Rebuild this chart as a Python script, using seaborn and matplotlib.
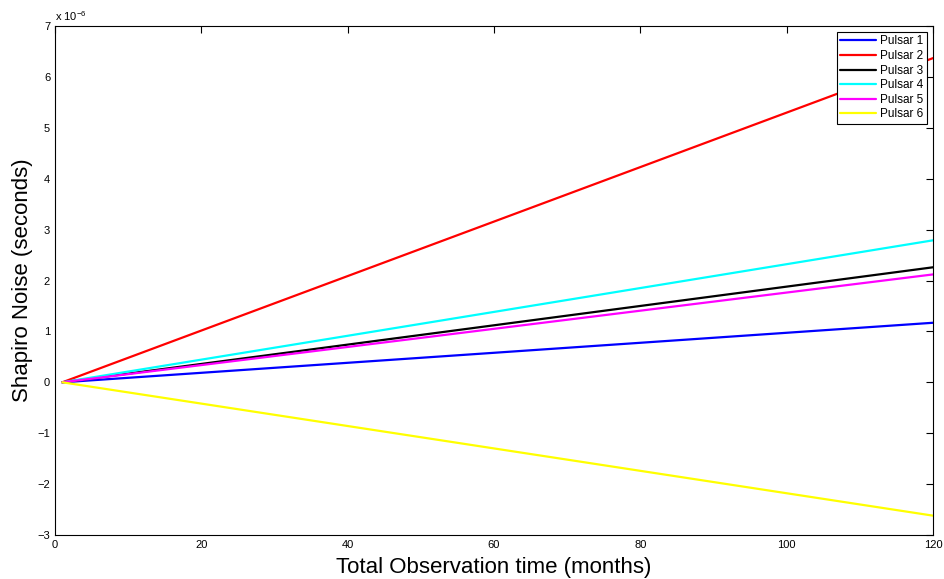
import numpy as np
import pandas as pd
import matplotlib
matplotlib.use("Agg")
import matplotlib.pyplot as plt
import matplotlib.ticker as mticker
import seaborn as sns

# Shapiro delay accumulated over the observation span (seconds)
months = [1, 120]
pulsar_names = ["Pulsar 1", "Pulsar 2", "Pulsar 3", "Pulsar 4", "Pulsar 5", "Pulsar 6"]
pulsar1 = [0.0, 1.17e-6]
pulsar2 = [0.0, 6.37e-6]
pulsar3 = [0.0, 2.26e-6]
pulsar4 = [0.0, 2.79e-6]
pulsar5 = [0.0, 2.12e-6]
pulsar6 = [0.0, -2.62e-6]
colors = ["#0000ff", "#ff0000", "#000000", "#00ffff", "#ff00ff", "#ffff00"]

series = [pulsar1, pulsar2, pulsar3, pulsar4, pulsar5, pulsar6]
df = pd.concat(
    [pd.DataFrame({"month": months, "noise": vals, "pulsar": name})
     for name, vals in zip(pulsar_names, series)],
    ignore_index=True,
)

sns.set_theme(style="white")
plt.rcParams["font.family"] = ["Liberation Sans", "DejaVu Sans"]
plt.rcParams["mathtext.fontset"] = "custom"
plt.rcParams["mathtext.rm"] = "Liberation Sans"
plt.rcParams["text.color"] = "black"
plt.rcParams["axes.labelcolor"] = "black"
plt.rcParams["xtick.color"] = "black"
plt.rcParams["ytick.color"] = "black"

fig = plt.figure(figsize=(9.45, 5.79), dpi=100)
ax = fig.add_axes([0.0582, 0.076, 0.9291, 0.879])

sns.lineplot(data=df, x="month", y="noise", hue="pulsar", palette=colors,
             linewidth=1.6, ax=ax, legend=True)

ax.set_xlim(0, 120)
ax.set_ylim(-3e-6, 7e-6)
ax.set_xticks(np.arange(0, 121, 20))
ax.set_yticks(np.arange(-3, 8, 1) * 1e-6)

# y tick labels in units of 1e-6 s, with the exponent shown above the axis
ax.yaxis.set_major_formatter(
    mticker.FuncFormatter(lambda v, pos: f"{v / 1e-6:.0f}".replace("-", "\u2212")))
ax.text(0.0, 1.006, "x 10$^{-6}$", transform=ax.transAxes, fontsize=8,
        ha="left", va="bottom")

ax.tick_params(direction="in", length=5, width=0.8, labelsize=8,
               top=True, right=True, colors="black")
for s in ax.spines.values():
    s.set_color("black")
    s.set_linewidth(0.8)

ax.set_xlabel("Total Observation time (months)", fontsize=16, labelpad=5)
ax.set_ylabel("Shapiro Noise (seconds)", fontsize=16, labelpad=3)

leg = ax.legend(loc="upper right", fontsize=8.5, frameon=True, fancybox=False,
                framealpha=1, edgecolor="black", handlelength=3.0,
                borderaxespad=0.5, labelspacing=0.22, handletextpad=0.4,
                borderpad=0.3)
leg.get_frame().set_linewidth(0.8)
for h in leg.get_lines():
    h.set_linewidth(1.6)
for t in leg.get_texts():
    t.set_color("black")

fig.savefig("out.png", dpi=100)
